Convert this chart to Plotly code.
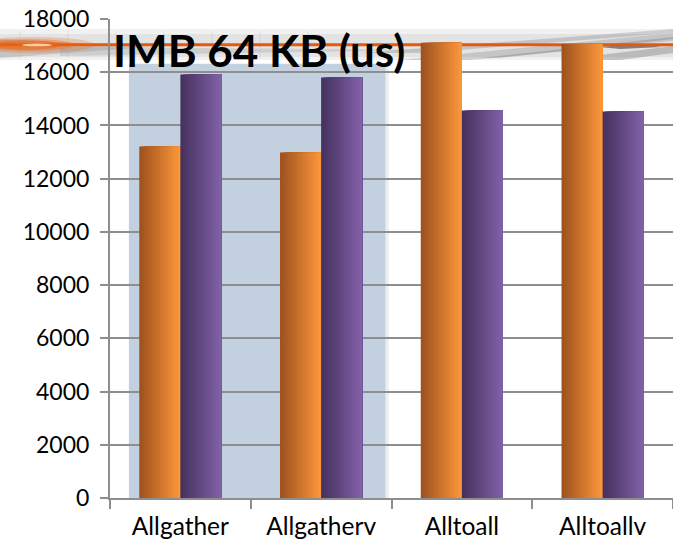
import plotly.graph_objects as go

# Benchmark data: IMB collectives at 64 KB message size, time in microseconds
categories = ["Allgather", "Allgatherv", "Alltoall", "Alltoallv"]
series_orange = [13210, 12985, 17110, 17065]
series_purple = [15910, 15800, 14560, 14525]
y_ticks = [0, 2000, 4000, 6000, 8000, 10000, 12000, 14000, 16000, 18000]

W, H = 673, 547
M_L, M_R, M_T, M_B = 110, 0, 19, 49
PW, PH = W - M_L - M_R, H - M_T - M_B


def px(x):
    """Pixel x -> paper x."""
    return (x - M_L) / PW


def py(y):
    """Pixel y (from top) -> paper y."""
    return (H - M_B - y) / PH


def lerp_color(c0, c1, t):
    return "rgb({},{},{})".format(*[round(a + (b - a) * t) for a, b in zip(c0, c1)])


fig = go.Figure()

BAR_W = 0.292
N_SLICES = 16


def gradient_bars(values, base_offset, c_left, c_right):
    # horizontal gradient: stacked overlays, each slice runs to the bar's right edge
    for i in range(N_SLICES):
        t = i / (N_SLICES - 1)
        off = base_offset + i * BAR_W / N_SLICES
        fig.add_trace(go.Bar(
            x=categories, y=values,
            offset=off, width=BAR_W - i * BAR_W / N_SLICES,
            marker=dict(color=lerp_color(c_left, c_right, t), line=dict(width=0)),
            showlegend=False, hoverinfo="skip" if i else "y",
        ))


gradient_bars(series_orange, -BAR_W, (160, 82, 30), (250, 150, 58))
gradient_bars(series_purple, 0.0, (70, 50, 95), (128, 96, 166))

shapes = []

# decorative swoosh band behind the title
shapes.append(dict(type="rect", xref="paper", yref="paper", layer="below",
                   x0=px(0), x1=px(W), y0=py(60), y1=py(29),
                   fillcolor="#F1F1F1", line=dict(width=0)))
shapes.append(dict(type="rect", xref="paper", yref="paper", layer="below",
                   x0=px(0), x1=px(W), y0=py(57), y1=py(34),
                   fillcolor="rgba(200,200,200,0.35)", line=dict(width=0)))
for x in range(20, 330, 48):
    shapes.append(dict(type="line", xref="paper", yref="paper", layer="below",
                       x0=px(x), x1=px(x), y0=py(58), y1=py(31),
                       line=dict(color="rgba(190,190,190,0.35)", width=1)))


def poly(pts, fill):
    path = "M " + " L ".join(f"{px(a):.5f},{py(b):.5f}" for a, b in pts) + " Z"
    shapes.append(dict(type="path", xref="paper", yref="paper", layer="below",
                       path=path, fillcolor=fill, line=dict(width=0)))


poly([(0, 39), (150, 47), (0, 58)], "rgba(140,140,140,0.35)")
poly([(60, 47), (430, 50), (60, 56)], "rgba(160,160,160,0.30)")
poly([(400, 60), (673, 33), (673, 41), (470, 60)], "rgba(120,120,120,0.28)")
poly([(360, 53), (673, 29), (673, 33), (420, 53)], "rgba(110,110,110,0.28)")
poly([(480, 58), (673, 37), (673, 39), (500, 58)], "rgba(90,90,90,0.25)")
poly([(560, 60), (673, 46), (673, 53), (620, 60)], "rgba(100,100,100,0.32)")
poly([(600, 47), (640, 44), (662, 47), (620, 49)], "rgba(30,30,30,0.5)")

# orange stroke with a soft glow at its left end
shapes.append(dict(type="line", xref="paper", yref="paper", layer="below",
                   x0=px(0), x1=px(W), y0=py(44.8), y1=py(44.8),
                   line=dict(color="#E35A0E", width=3)))
for (x0, x1, y0, y1, a) in [(-30, 95, 53, 37, 0.25), (-20, 75, 51, 39, 0.35),
                            (-10, 62, 49.5, 40.5, 0.5)]:
    shapes.append(dict(type="circle", xref="paper", yref="paper", layer="below",
                       x0=px(x0), x1=px(x1), y0=py(y0), y1=py(y1),
                       fillcolor=f"rgba(236,98,18,{a})", line=dict(width=0)))
shapes.append(dict(type="circle", xref="paper", yref="paper", layer="below",
                   x0=px(22), x1=px(52), y0=py(46.3), y1=py(43.5),
                   fillcolor="rgba(255,225,190,0.85)", line=dict(width=0)))

# highlighted region behind the Allgather pair
shapes.append(dict(type="rect", xref="x", yref="y", layer="below",
                   x0=-0.34, x1=1.48, y0=0, y1=16240,
                   fillcolor="rgba(0,0,0,0.07)", line=dict(width=0)))
shapes.append(dict(type="rect", xref="x", yref="y", layer="below",
                   x0=-0.366, x1=1.456, y0=0, y1=16320,
                   fillcolor="#C3D0DF", line=dict(width=0)))

grid = "#8E8E8E"
fig.update_layout(
    width=W, height=H,
    margin=dict(l=M_L, r=M_R, t=M_T, b=M_B, pad=0),
    paper_bgcolor="white", plot_bgcolor="rgba(0,0,0,0)",
    barmode="overlay",
    showlegend=False,
    font=dict(family="Lato, Open Sans, sans-serif", color="#000000", size=23),
    shapes=shapes,
    annotations=[dict(
        text="<b>IMB 64 KB (us)</b>", xref="paper", yref="paper",
        x=px(111), y=py(50), xanchor="left", yanchor="middle", showarrow=False,
        font=dict(family="Lato, Open Sans, sans-serif", size=44, color="#000000"),
    )],
    xaxis=dict(
        type="category", range=[-0.5, 3.5],
        showline=True, linecolor=grid, linewidth=2,
        ticks="outside", tickson="boundaries", ticklen=9, tickwidth=2, tickcolor=grid,
        showgrid=False, tickfont=dict(size=24.5), ticklabelstandoff=6,
    ),
    yaxis=dict(
        range=[0, 18000], tickvals=y_ticks, ticktext=[str(v) for v in y_ticks],
        showgrid=True, gridcolor=grid, gridwidth=2,
        showline=True, linecolor=grid, linewidth=2,
        ticks="outside", ticklen=8, tickwidth=2, tickcolor=grid,
        zeroline=False, tickfont=dict(size=23), ticklabelstandoff=6,
    ),
)

fig.write_html("out.html")
